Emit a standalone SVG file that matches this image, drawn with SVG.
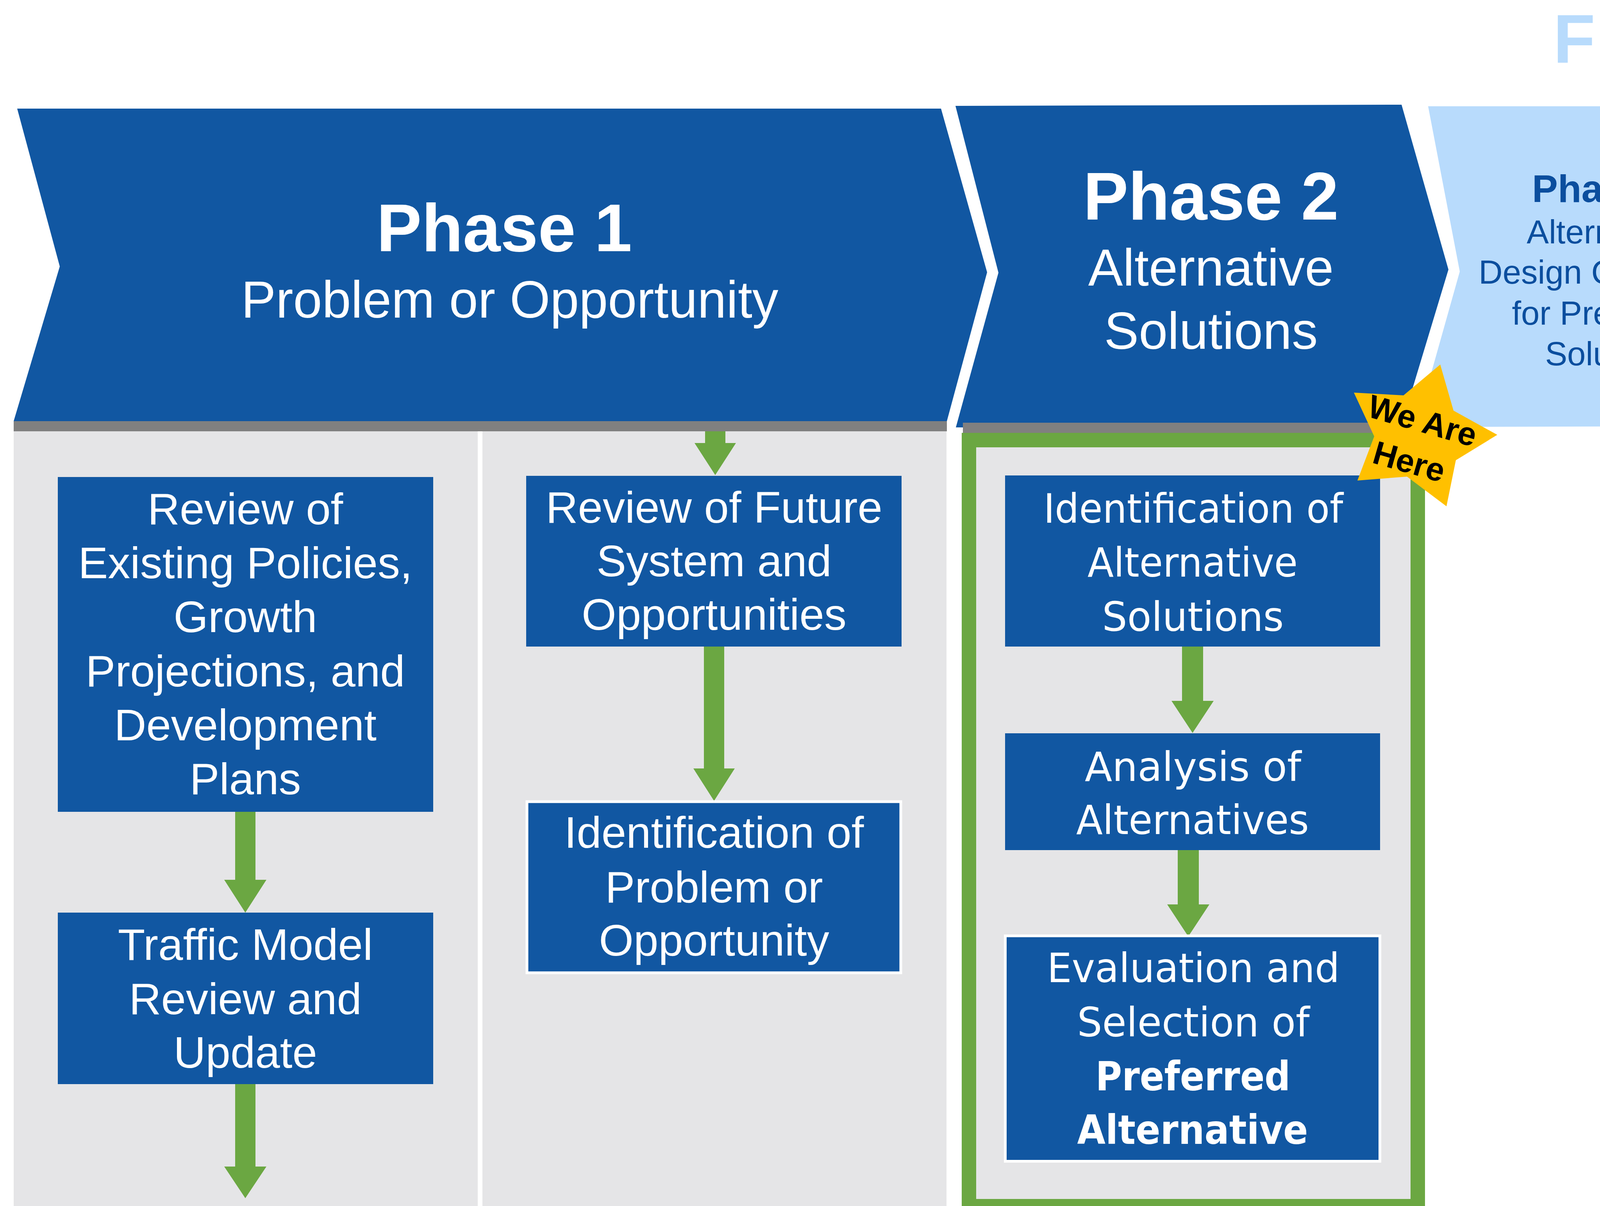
<svg xmlns="http://www.w3.org/2000/svg" width="6095" height="3087" viewBox="0 0 6095 3087">
<style>
.dark{fill:#1157A2}
.light{fill:#B8DBFC}
.bar{fill:#808080}
.col{fill:#E5E5E7}
.box{fill:#1157A2}
.boxw{fill:#1157A2;stroke:#FFFFFF;stroke-width:7}
.arrow{fill:#6BA742}
.t{font-family:"Liberation Sans",Arial,sans-serif;text-anchor:middle}
.g{font-family:"DejaVu Sans","Liberation Sans",sans-serif;text-anchor:middle}
.w{fill:#FFFFFF}
.b{fill:#0B4E9E}
.bold{font-weight:bold}
.h1{font-size:173px;font-weight:bold}
.s1{font-size:133px}
.h3{font-size:99px;font-weight:bold}
.s3{font-size:85px}
.n{font-size:114px}
.n2{font-size:104px}
</style>
<rect x="0" y="0" width="6095" height="3087" fill="#FFFFFF"/>

<g id="future-title">
<text class="t bold" font-size="176" fill="#B8DBFC"><tspan x="4030" y="161">F</tspan><tspan x="4291" y="161">U</tspan><tspan x="4554" y="161">T</tspan><tspan x="4819" y="161">U</tspan><tspan x="5094" y="161">R</tspan><tspan x="5365" y="161">E</tspan><tspan x="5537" y="161">**</tspan></text>
</g>

<g id="phase1">
<polygon class="dark" points="44,278 2409,278 2527,697 2424,1078 35,1078 153,682"/>
<rect class="bar" x="35" y="1078" width="2389" height="26"/>
<rect class="col" x="35" y="1104" width="1188" height="1983"/>
<rect class="col" x="1235" y="1104" width="1188" height="1983"/>
<text class="t w h1" x="1291" y="643">Phase 1</text>
<text class="t w s1" x="1305" y="813">Problem or Opportunity</text>
</g>

<g id="phase2">
<polygon class="dark" points="2446,271 3588,268 3708,690 3586,1094 2447,1094 2556,698"/>
<rect class="bar" x="2465" y="1082" width="1123" height="26"/>
<rect x="2480.5" y="1126.5" width="1149" height="1961" fill="#E5E5E7" stroke="#6BA742" stroke-width="37"/>
<text class="t w h1" x="3100" y="562">Phase 2</text>
<text class="t w s1" x="3100" y="731">Alternative</text>
<text class="t w s1" x="3100" y="893">Solutions</text>
</g>

<g id="phase3">
<polygon class="light" points="3656,272 4428,272 4505,668 4394,1091 3625,1093 3737,695"/>
<text class="t b h3" x="4109" y="517">Phase 3</text>
<text class="t b s3" x="4109" y="623">Alternative</text>
<text class="t b s3" x="4109" y="726">Design Concepts</text>
<text class="t b s3" x="4109" y="831">for Preferred</text>
<text class="t b s3" x="4109" y="935">Solution</text>
</g>

<g id="phase4">
<polygon class="light" points="4450,261 5222,260 5298,653 5189,1079 4420,1082 4529,680"/>
<text class="t b h3" x="4907" y="602">Phase 4</text>
<text class="t b s3" x="4907" y="709">Environmental</text>
<text class="t b s3" x="4907" y="812">Study Report</text>
</g>

<g id="phase5">
<polygon class="light" points="5247,271 6019,271 6095,666 5986,1090 5217,1092 5327,691"/>
<text class="t b h3" x="5683" y="632">Phase 5</text>
<text class="t b s3" x="5684" y="739">Implementation</text>
</g>

<g id="connectors">
<polygon class="arrow" points="602,2078 654,2078 654,2252 682,2252 628,2336 574,2252 602,2252"/>
<polygon class="arrow" points="602,2775 654,2775 654,2986 682,2986 628,3067 574,2986 602,2986"/>
<polygon class="arrow" points="1805,1104 1857,1104 1857,1134 1884,1134 1831,1216 1778,1134 1805,1134"/>
<polygon class="arrow" points="1802,1655 1854,1655 1854,1967 1881,1967 1828,2050 1775,1967 1802,1967"/>
<polygon class="arrow" points="3026,1655 3080,1655 3080,1794 3107,1794 3053,1876 2999,1794 3026,1794"/>
<polygon class="arrow" points="3015,2176 3069,2176 3069,2315 3096,2315 3042,2397 2988,2315 3015,2315"/>
</g>

<g id="node-existing-policies">
<rect class="box" x="148" y="1221" width="961" height="857"/>
<text class="t w n" x="628" y="1342">Review of</text>
<text class="t w n" x="628" y="1480">Existing Policies,</text>
<text class="t w n" x="628" y="1618">Growth</text>
<text class="t w n" x="628" y="1757">Projections, and</text>
<text class="t w n" x="628" y="1895">Development</text>
<text class="t w n" x="628" y="2033">Plans</text>
</g>

<g id="node-traffic-model">
<rect class="box" x="148" y="2336" width="961" height="439"/>
<text class="t w n" x="628" y="2457">Traffic Model</text>
<text class="t w n" x="628" y="2596">Review and</text>
<text class="t w n" x="628" y="2733">Update</text>
</g>

<g id="node-future-system">
<rect class="box" x="1347" y="1218" width="961" height="437"/>
<text class="t w n" x="1828" y="1338">Review of Future</text>
<text class="t w n" x="1828" y="1475">System and</text>
<text class="t w n" x="1828" y="1612">Opportunities</text>
</g>

<g id="node-problem-opportunity">
<rect class="boxw" x="1349" y="2052" width="957" height="438" stroke-width="5"/>
<text class="t w n" x="1828" y="2170">Identification of</text>
<text class="t w n" x="1828" y="2310">Problem or</text>
<text class="t w n" x="1828" y="2446">Opportunity</text>
</g>

<g id="node-identification-alternatives">
<rect class="box" x="2573" y="1217" width="960" height="438"/>
<text class="g w n2" x="3055" y="1338" textLength="767" lengthAdjust="spacingAndGlyphs">Identification of</text>
<text class="g w n2" x="3053" y="1476" textLength="538" lengthAdjust="spacingAndGlyphs">Alternative</text>
<text class="g w n2" x="3054" y="1615" textLength="465" lengthAdjust="spacingAndGlyphs">Solutions</text>
</g>

<g id="node-analysis">
<rect class="box" x="2573" y="1877" width="960" height="299"/>
<text class="g w n2" x="3054" y="1999" textLength="554" lengthAdjust="spacingAndGlyphs">Analysis of</text>
<text class="g w n2" x="3053" y="2135" textLength="596" lengthAdjust="spacingAndGlyphs">Alternatives</text>
</g>

<g id="node-evaluation">
<rect class="boxw" x="2573.5" y="2395.5" width="959" height="577"/>
<text class="g w n2" x="3055" y="2514" textLength="749" lengthAdjust="spacingAndGlyphs">Evaluation and</text>
<text class="g w n2" x="3055" y="2653" textLength="595" lengthAdjust="spacingAndGlyphs">Selection of</text>
<text class="g w n2 bold" x="3054" y="2791" textLength="499" lengthAdjust="spacingAndGlyphs">Preferred</text>
<text class="g w n2 bold" x="3053" y="2928" textLength="591" lengthAdjust="spacingAndGlyphs">Alternative</text>
</g>

<g id="we-are-here">
<polygon fill="#FFC000" points="3687,933 3721,1051 3833,1113 3727,1178 3703,1296 3602,1220 3475,1230 3518,1117 3466,1005 3593,1012"/>
<g transform="translate(3642,1076) rotate(16)">
<text class="t bold" font-size="84" fill="#000000" x="0" y="30">We Are</text>
<text class="t bold" font-size="84" fill="#000000" x="-4" y="140">Here</text>
</g>
</g>
</svg>
